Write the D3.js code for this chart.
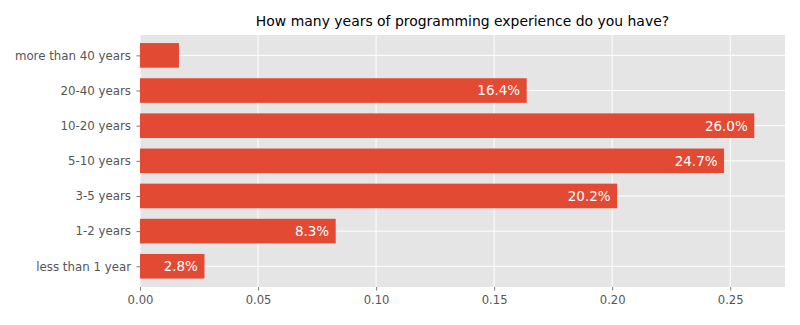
<!DOCTYPE html>
<html><head><meta charset="utf-8">
<script src="https://cdn.jsdelivr.net/npm/d3@7"></script>
<style>body{margin:0;background:#fff}svg{display:block}</style>
</head><body><svg id="c" width="800" height="325"></svg>
<script>
const categories = ["less than 1 year","1-2 years","3-5 years","5-10 years","10-20 years","20-40 years","more than 40 years"];
const values = [0.0273, 0.0829, 0.2021, 0.2474, 0.2602, 0.1638, 0.0165];
const labels = ["2.8%","8.3%","20.2%","24.7%","26.0%","16.4%",""];
const xTicks = [0, 0.05, 0.10, 0.15, 0.20, 0.25];
const title = "How many years of programming experience do you have?";

const svg = d3.select("#c");
const L = 140, R = 785, T = 35, B = 287;
const x = d3.scaleLinear().domain([0, 0.2602 * 1.05]).range([L, R]);
const y = d3.scaleLinear().domain([-0.59, categories.length - 1 + 0.58]).range([B, T]);
const bh = y(0) - y(0.7);
const font = "DejaVu Sans, sans-serif";

svg.append("rect").attr("x", L).attr("y", T).attr("width", R - L).attr("height", B - T).attr("fill", "#E5E5E5");

// grid
svg.append("g").selectAll("line").data(xTicks).join("line")
  .attr("x1", d => x(d)).attr("x2", d => x(d)).attr("y1", T).attr("y2", B)
  .attr("stroke", "#fff").attr("stroke-width", 1);
svg.append("g").selectAll("line").data(categories).join("line")
  .attr("x1", L).attr("x2", R).attr("y1", (d, i) => y(i)).attr("y2", (d, i) => y(i))
  .attr("stroke", "#fff").attr("stroke-width", 1);

// bars
svg.append("g").selectAll("rect").data(values).join("rect")
  .attr("x", x(0)).attr("y", (d, i) => y(i) - bh / 2)
  .attr("width", d => x(d) - x(0)).attr("height", bh)
  .attr("fill", "#E24A33");

// bar labels
svg.append("g").selectAll("text").data(values).join("text")
  .attr("x", d => x(d) - 6.5).attr("y", (d, i) => y(i))
  .attr("dy", "0.36em").attr("text-anchor", "end")
  .attr("fill", "#fff").attr("font-family", font).attr("font-size", 13.5)
  .text((d, i) => labels[i]);

// axes
const xAxis = d3.axisBottom(x).tickValues(xTicks).tickFormat(d3.format(".2f")).tickSize(3.5).tickPadding(5.5);
const gx = svg.append("g").attr("transform", `translate(0,${B})`).call(xAxis);
gx.select(".domain").remove();
gx.selectAll("line").attr("stroke", "#555").attr("stroke-width", 0.8);
gx.selectAll("text").attr("fill", "#555").attr("font-family", font).attr("font-size", 11.6);

const yAxis = d3.axisLeft(y).tickValues(d3.range(categories.length)).tickFormat(i => categories[i]).tickSize(3.5).tickPadding(5.5);
const gy = svg.append("g").attr("transform", `translate(${L},0)`).call(yAxis);
gy.select(".domain").remove();
gy.selectAll("line").attr("stroke", "#555").attr("stroke-width", 0.8);
gy.selectAll("text").attr("fill", "#555").attr("font-family", font).attr("font-size", 11.8);

svg.append("text").attr("x", (L + R) / 2).attr("y", 26).attr("text-anchor", "middle")
  .attr("font-family", font).attr("font-size", 13.95).attr("fill", "#000").text(title);
</script></body></html>
